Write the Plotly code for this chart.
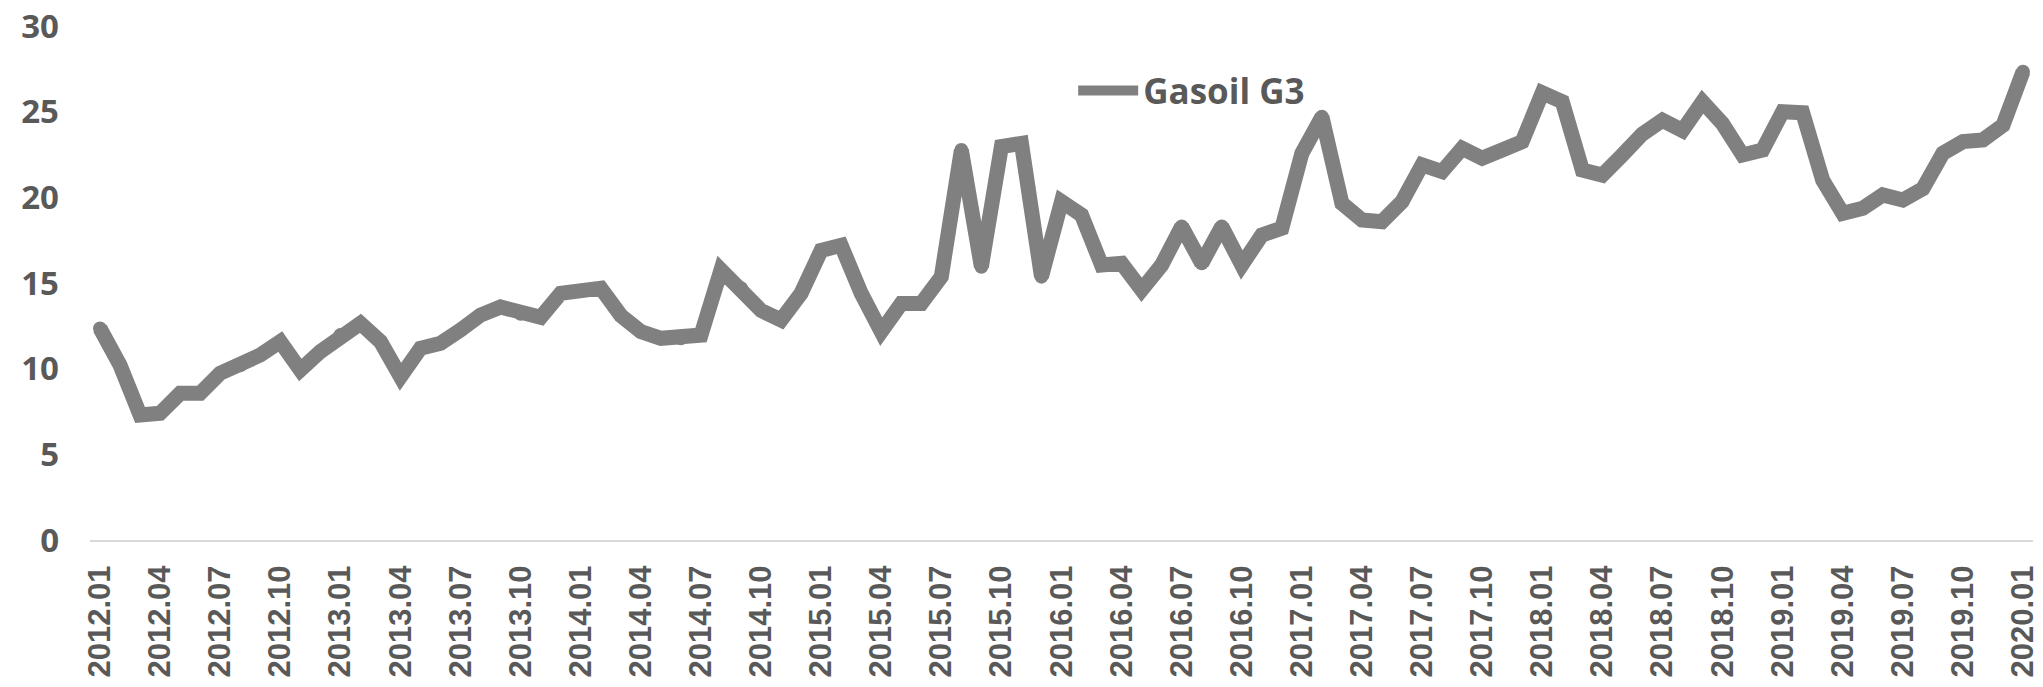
"""Gasoil G3 monthly line chart, 2012.01 - 2020.01."""

import plotly.graph_objects as go

YEARS = list(range(2012, 2020))
MONTH_LABELS = [f"{y}.{m:02d}" for y in YEARS for m in range(1, 13)] + ["2020.01"]

GASOIL_G3 = [
    12.35, 10.2, 7.3, 7.4, 8.56, 8.56, 9.73, 10.2, 10.8, 11.58,
    9.92, 11.0, 11.96, 12.65, 11.58, 9.53, 11.19, 11.48, 12.26, 13.13,
    13.6, 13.2, 13.0, 14.4, 14.55, 14.7, 13.1, 12.16, 11.77, 11.77,
    11.96, 15.76, 14.7, 13.4, 12.84, 14.4, 16.9, 17.2, 14.4, 12.16,
    13.8, 13.8, 15.37, 22.76, 15.95, 22.96, 23.15, 15.37, 19.75, 18.97,
    16.05, 16.15, 14.6, 16.05, 18.3, 16.15, 18.3, 16.05, 17.8, 18.2,
    22.57, 24.7, 19.65, 18.68, 18.58, 19.75, 21.9, 21.5, 22.86, 22.28,
    22.76, 23.25, 26.1, 25.58, 21.6, 21.3, 22.47, 23.7, 24.5, 23.9,
    25.58, 24.3, 22.47, 22.76, 25.0, 24.94, 21.0, 19.07, 19.36, 20.14,
    19.84, 20.5, 22.57, 23.25, 23.35, 24.2, 27.33,
]

TICK_LABELS = MONTH_LABELS[::3]
Y_TICKS = [0, 5, 10, 15, 20, 25, 30]

LINE_COLOR = "#808080"
TEXT_COLOR = "#595959"
LINE_WIDTH = 15

fig = go.Figure()
# markers of line width give the rounded joins/caps of the original
fig.add_trace(go.Scatter(
    x=MONTH_LABELS,
    y=GASOIL_G3,
    mode="lines+markers",
    name="Gasoil G3",
    line=dict(color=LINE_COLOR, width=LINE_WIDTH),
    marker=dict(color=LINE_COLOR, size=LINE_WIDTH - 1, line=dict(width=0)),
    showlegend=False,
))
# legend entry only
fig.add_trace(go.Scatter(
    x=[None],
    y=[None],
    mode="lines",
    name="Gasoil G3",
    line=dict(color=LINE_COLOR, width=LINE_WIDTH),
))

fig.update_layout(
    width=2043,
    height=687,
    plot_bgcolor="white",
    paper_bgcolor="white",
    margin=dict(l=90, r=10, t=26, b=147, autoexpand=False),
    showlegend=True,
    legend=dict(
        x=0.506, y=0.874, xanchor="left", yanchor="middle",
        bgcolor="rgba(0,0,0,0)",
        font=dict(family="Open Sans", size=35, color=TEXT_COLOR, weight="bold"),
        itemwidth=60,
    ),
    xaxis=dict(
        type="category",
        categoryorder="array",
        categoryarray=MONTH_LABELS,
        range=[-0.5, 96.5],
        tickmode="array",
        tickvals=TICK_LABELS,
        ticktext=TICK_LABELS,
        tickangle=-90,
        tickfont=dict(family="Liberation Sans", size=31, color=TEXT_COLOR, weight="bold"),
        ticklabelstandoff=11,
        ticklabeloverflow="allow",
        automargin=False,
        showgrid=False,
        showline=True,
        linecolor="#d9d9d9",
        linewidth=2,
        ticks="",
        zeroline=False,
    ),
    yaxis=dict(
        range=[0, 30],
        tickvals=Y_TICKS,
        tickfont=dict(family="Open Sans", size=33, color=TEXT_COLOR, weight="bold"),
        ticklabelstandoff=30,
        ticklabeloverflow="allow",
        automargin=False,
        showgrid=False,
        zeroline=False,
        showline=False,
        ticks="",
    ),
)

# drop the browser's default body margin so the figure fills the window exactly
fig.write_html(
    "out.html",
    config={"displayModeBar": False},
    post_script="document.body.style.margin = '0';",
)
